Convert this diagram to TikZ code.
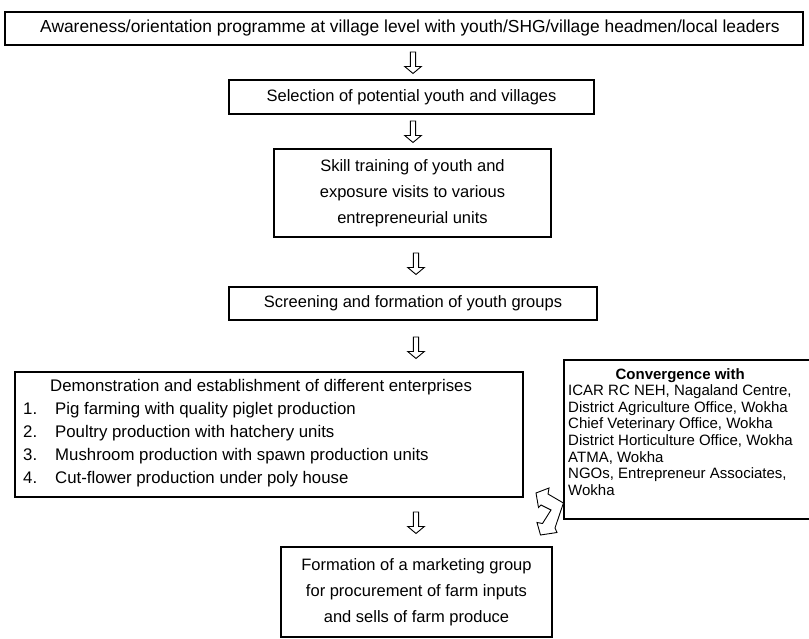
\documentclass[tikz,border=0pt]{standalone}
\usepackage{fontspec}
\setmainfont{Liberation Sans}
\usetikzlibrary{calc}
\newcommand\mainfs{\fontsize{16.5}{26}\selectfont}
\newcommand\convfs{\fontsize{15}{16.6}\selectfont}
\begin{document}
\begin{tikzpicture}[x=1pt,y=-1pt,
  box/.style={draw, line width=1.2pt, inner sep=0pt, align=center, font=\mainfs},
  arrowline/.style={draw, line width=0.9pt, fill=white, line join=miter},
  hollowdown/.pic={\path[arrowline] (-2.6,0) -- (-2.6,14.5) -- (-8.3,14.5) -- (0,21.5) -- (8.3,14.5) -- (2.6,14.5) -- (2.6,0) -- cycle;}
]
\useasboundingbox (0,0) rectangle (809,639);

\node[box, minimum width=798pt, minimum height=33pt, font=\fontsize{17.4}{26}\selectfont] (b1) at (404,28.5)
  {\hspace*{12pt}Awareness/orientation programme at village level with youth/SHG/village headmen/local leaders};
\node[box, minimum width=365pt, minimum height=34pt] (b2) at (411.5,97)
  {Selection of potential youth and villages};
\node[box, minimum width=277pt, minimum height=88pt] (b3) at (412.5,193)
  {Skill training of youth and\\exposure visits to various\\entrepreneurial units};
\node[box, minimum width=368pt, minimum height=33pt] (b4) at (413,303.5)
  {Screening and formation of youth groups};
\node[box, minimum width=508pt, minimum height=125pt] (b5) at (269,434.5) {};
\node[anchor=north west, inner sep=0pt, align=left, font=\fontsize{16.8}{23}\selectfont] (t5) at (23,379)
  {\hspace*{27pt}Demonstration and establishment of different enterprises\\
   \makebox[32pt][l]{1.}Pig farming with quality piglet production\\
   \makebox[32pt][l]{2.}Poultry production with hatchery units\\
   \makebox[32pt][l]{3.}Mushroom production with spawn production units\\
   \makebox[32pt][l]{4.}Cut-flower production under poly house};
\node[box, minimum width=250pt, minimum height=159pt] (b6) at (689,439.5) {};
\node[anchor=north west, inner sep=0pt, align=left, font=\convfs] (t6) at (568,368)
  {\makebox[224pt]{\textbf{Convergence with}}\\
   ICAR RC NEH, Nagaland Centre,\\
   District Agriculture Office, Wokha\\
   Chief Veterinary Office, Wokha\\
   District Horticulture Office, Wokha\\
   ATMA, Wokha\\
   NGOs, Entrepreneur Associates,\\
   Wokha};
\node[box, minimum width=271pt, minimum height=90pt] (b7) at (416.5,592)
  {Formation of a marketing group\\for procurement of farm inputs\\and sells of farm produce};

\pic at (413,52) {hollowdown};
\pic at (413,121) {hollowdown};
\pic at (416,253) {hollowdown};
\pic at (416,337) {hollowdown};
\pic at (416,512) {hollowdown};

% zigzag double block arrow between the enterprise box, the convergence box and the marketing box
\path[arrowline] (536,493) -- (549,488) -- (548,494) -- (b6.west |- 0,503) -- (555,528) -- (557,532.5)
  -- (540.5,535) -- (537,522.5) -- (542.5,523.5) -- (551,510) -- (541,505) -- (538.5,507.5) -- cycle;
\end{tikzpicture}
\end{document}
